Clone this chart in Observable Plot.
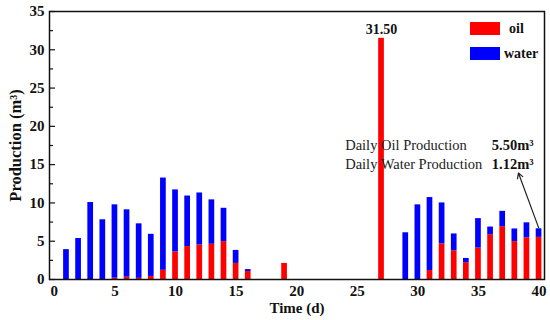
<!DOCTYPE html>
<html>
<head>
<meta charset="utf-8">
<script src="https://cdn.jsdelivr.net/npm/d3@7"></script>
<script src="https://cdn.jsdelivr.net/npm/@observablehq/plot@0.6"></script>
<style>
  html, body { margin: 0; padding: 0; background: #fff; }
  #wrap { position: relative; width: 550px; height: 320px; font-family: "Liberation Serif", "Times New Roman", serif; }
  .leg { position: absolute; display: flex; align-items: center; font-weight: bold; font-size: 14px; color: #111; }
  .sw { width: 30px; height: 13px; display: inline-block; }
</style>
</head>
<body>
<div id="wrap"></div>
<script>
// Data (days 1..40)
const days  = [1,2,3,4,5,6,7,8,9,10,11,12,13,14,15,16,17,18,19,20,21,22,23,24,25,26,27,28,29,30,31,32,33,34,35,36,37,38,39,40];
const oil   = [0,0,0,0,0.17,0.3,0.15,0.4,1.2,3.6,4.3,4.5,4.6,4.95,2.1,1.05,0,0,2.1,0,0,0,0,0,0,0,31.5,0,0,0,1.17,4.65,3.75,2.2,4.1,5.85,6.9,4.95,5.45,5.5];
const water = [3.9,5.35,10.05,7.8,9.58,8.8,7.12,5.5,12.05,8.1,6.6,6.8,5.8,4.35,1.7,0.25,0,0,0,0,0,0,0,0,0,0,0,0,6.1,9.75,9.53,5.35,2.2,0.55,3.85,1.0,2.0,1.65,1.95,1.12];
const xTicks = [0,5,10,15,20,25,30,35,40];
const yTicks = [0,5,10,15,20,25,30,35];
const yMinor = [2.5,7.5,12.5,17.5,22.5,27.5,32.5];
const seriesNames = ["oil", "water"];
const seriesColors = ["#ff0000", "#0000ff"];
// annotation anchors (data space)
const annotX = 24, annotValX = 36.1, annotOilY = 17.5, annotWaterY = 15.1;
const arrowEnd = {x: 38.3, y: 13.9};

const rows = days.map((d, i) => ({day: d, oil: oil[i], water: water[i], total: oil[i] + water[i]}));
const halfW = 0.235;
const last = rows[rows.length - 1];
const peak = rows.reduce((a, b) => (b.oil > a.oil ? b : a));
const fmt = d3.format(".2f");

const chart = Plot.plot({
  width: 550,
  height: 320,
  marginLeft: 49,
  marginRight: 6,
  marginTop: 11,
  marginBottom: 41,
  style: {fontFamily: "'Liberation Serif', 'Times New Roman', serif", fontSize: "14px", color: "#111", background: "#fff"},
  x: {domain: [-0.4, 40.45]},
  y: {domain: [0, 35]},
  marks: [
    Plot.rectY(rows.filter(d => d.oil > 0), {x1: d => d.day - halfW, x2: d => d.day + halfW, y1: 0, y2: "oil", fill: seriesColors[0]}),
    Plot.rectY(rows.filter(d => d.water > 0), {x1: d => d.day - halfW, x2: d => d.day + halfW, y1: "oil", y2: "total", fill: seriesColors[1]}),
    Plot.text([peak], {x: "day", y: "oil", text: d => fmt(d.oil), dy: -9, fontWeight: "bold", fontSize: 14, fill: "#111"}),
    Plot.text(["Daily Oil Production"], {x: annotX, y: annotOilY, text: d => d, textAnchor: "start", fontSize: 14.5, fill: "#222"}),
    Plot.text(["Daily Water Production"], {x: annotX, y: annotWaterY, text: d => d, textAnchor: "start", fontSize: 14.5, fill: "#222"}),
    Plot.text([last], {x: annotValX, y: annotOilY, text: d => fmt(d.oil) + "m³", textAnchor: "start", fontWeight: "bold", fontSize: 14.5, fill: "#111"}),
    Plot.text([last], {x: annotValX, y: annotWaterY, text: d => fmt(d.water) + "m³", textAnchor: "start", fontWeight: "bold", fontSize: 14.5, fill: "#111"}),
    Plot.arrow([last], {x1: "day", y1: "total", x2: () => arrowEnd.x, y2: () => arrowEnd.y, stroke: "#222", strokeWidth: 1.2, headLength: 7, insetStart: 1}),
    Plot.axisY({ticks: yTicks, tickSize: 0, tickPadding: 5, fontWeight: "bold", fontSize: 15, label: null}),
    Plot.axisY({ticks: [], tickSize: 0, text: null, fontWeight: "bold", fontSize: 16.5, label: "Production (m³)", labelAnchor: "center", labelArrow: "none", labelOffset: 40}),
    Plot.axisY({ticks: yTicks, tickSize: 6, dx: 6, text: null, label: null, strokeWidth: 1.2}),
    Plot.axisY({ticks: yMinor, tickSize: 4, dx: 4, text: null, label: null, strokeWidth: 1.2}),
    Plot.axisX({ticks: xTicks, tickSize: 0, tickPadding: 6, fontWeight: "bold", fontSize: 15, label: null}),
    Plot.axisX({ticks: [], tickSize: 0, text: null, fontWeight: "bold", fontSize: 15, label: "Time (d)", labelAnchor: "center", labelArrow: "none", labelOffset: 33}),
    Plot.frame({stroke: "#111", strokeWidth: 1.5})
  ]
});

const wrap = document.getElementById("wrap");
wrap.appendChild(chart);
// in-frame legend
const legPos = [{left: 470, top: 22, gap: 9}, {left: 470, top: 47, gap: 4}];
seriesNames.forEach((name, i) => {
  const el = document.createElement("div");
  el.className = "leg";
  el.style.left = legPos[i].left + "px";
  el.style.top = legPos[i].top + "px";
  el.innerHTML = `<span class="sw" style="background:${seriesColors[i]}"></span><span style="margin-left:${legPos[i].gap}px;line-height:13px">${name}</span>`;
  wrap.appendChild(el);
});
</script>
</body>
</html>
